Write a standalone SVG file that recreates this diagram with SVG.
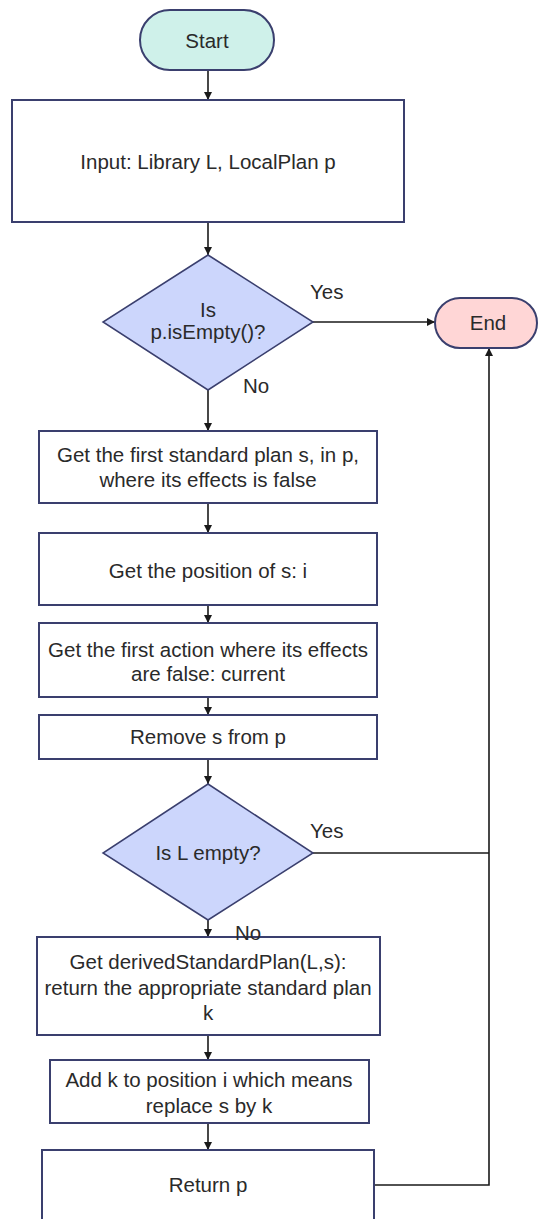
<svg xmlns="http://www.w3.org/2000/svg" width="539" height="1219" viewBox="0 0 539 1219">
<defs>
<marker id="arr" viewBox="0 0 10 10" refX="10" refY="5" markerWidth="8" markerHeight="8" markerUnits="userSpaceOnUse" orient="auto">
<path d="M0,0 L10,5 L0,10 z" fill="#1a1a1a"/>
</marker>
<style>
.box{fill:#ffffff;stroke:#3a3f6e;stroke-width:2}
.dia{fill:#ccd6fc;stroke:#3a3f6e;stroke-width:1.5}
.start{fill:#cff1ea;stroke:#3a3f6e;stroke-width:2}
.end{fill:#ffd6d6;stroke:#3a3f6e;stroke-width:2}
.t{font-family:"Liberation Sans",Arial,sans-serif;font-size:20.5px;fill:#2a2a2a;text-anchor:middle}
.lbl{font-family:"Liberation Sans",Arial,sans-serif;font-size:20.5px;fill:#2a2a2a}
.c{fill:none;stroke:#1a1a1a;stroke-width:1.6}
</style>
</defs>
<rect width="539" height="1219" fill="#ffffff"/>
<g id="connectors">
<line class="c" x1="208" y1="70" x2="208" y2="100" marker-end="url(#arr)"/>
<line class="c" x1="208" y1="222" x2="208" y2="255" marker-end="url(#arr)"/>
<line class="c" x1="313" y1="322" x2="435" y2="322" marker-end="url(#arr)"/>
<line class="c" x1="208" y1="390" x2="208" y2="431" marker-end="url(#arr)"/>
<line class="c" x1="208" y1="503" x2="208" y2="533" marker-end="url(#arr)"/>
<line class="c" x1="208" y1="605" x2="208" y2="623" marker-end="url(#arr)"/>
<line class="c" x1="208" y1="697" x2="208" y2="715" marker-end="url(#arr)"/>
<line class="c" x1="208" y1="759" x2="208" y2="784" marker-end="url(#arr)"/>
<line class="c" x1="313" y1="853" x2="489" y2="853"/>
<line class="c" x1="208" y1="920" x2="208" y2="937" marker-end="url(#arr)"/>
<line class="c" x1="208" y1="1035" x2="208" y2="1060" marker-end="url(#arr)"/>
<line class="c" x1="208" y1="1123" x2="208" y2="1150" marker-end="url(#arr)"/>
<polyline class="c" points="374,1185 489,1185 489,348" marker-end="url(#arr)"/>
</g>
<g id="start">
<rect class="start" x="140" y="10" width="134" height="60" rx="30" ry="30"/>
<text class="t" x="207" y="48">Start</text>
</g>
<g id="input">
<rect class="box" x="12" y="100" width="392" height="122"/>
<text class="t" x="208" y="169">Input: Library L, LocalPlan p</text>
</g>
<g id="isEmpty">
<polygon class="dia" points="208,255 313,322 208,390 103,322"/>
<text class="t" x="208" y="317">Is</text>
<text class="t" x="208" y="339">p.isEmpty()?</text>
<text class="lbl" x="310" y="299">Yes</text>
<text class="lbl" x="243" y="393">No</text>
</g>
<g id="end">
<rect class="end" x="435" y="298" width="102" height="50" rx="25" ry="25"/>
<text class="t" x="488" y="330">End</text>
</g>
<g id="getFirst">
<rect class="box" x="39" y="431" width="338" height="72"/>
<text class="t" x="208" y="462">Get the first standard plan s, in p,</text>
<text class="t" x="208" y="487">where its effects is false</text>
</g>
<g id="getPosition">
<rect class="box" x="39" y="533" width="338" height="72"/>
<text class="t" x="208" y="578">Get the position of s: i</text>
</g>
<g id="getAction">
<rect class="box" x="39" y="623" width="338" height="74"/>
<text class="t" x="208" y="657">Get the first action where its effects</text>
<text class="t" x="208" y="681">are false: current</text>
</g>
<g id="remove">
<rect class="box" x="39" y="715" width="338" height="44"/>
<text class="t" x="208" y="744">Remove s from p</text>
</g>
<g id="isLEmpty">
<polygon class="dia" points="208,784 313,853 208,920 103,853"/>
<text class="t" x="208" y="860">Is L empty?</text>
<text class="lbl" x="310" y="838">Yes</text>
</g>
<g id="derived">
<rect class="box" x="37" y="937" width="343" height="98"/>
<text class="t" x="208" y="969">Get derivedStandardPlan(L,s):</text>
<text class="t" x="208" y="995">return the appropriate standard plan</text>
<text class="t" x="208" y="1020">k</text>
</g>
<g id="noLabel2">
<text class="lbl" x="235" y="940">No</text>
</g>
<g id="add">
<rect class="box" x="50" y="1060" width="319" height="63"/>
<text class="t" x="209" y="1087">Add k to position i which means</text>
<text class="t" x="209" y="1113">replace s by k</text>
</g>
<g id="return">
<rect class="box" x="42" y="1150" width="332" height="76"/>
<text class="t" x="208" y="1192">Return p</text>
</g>
</svg>
